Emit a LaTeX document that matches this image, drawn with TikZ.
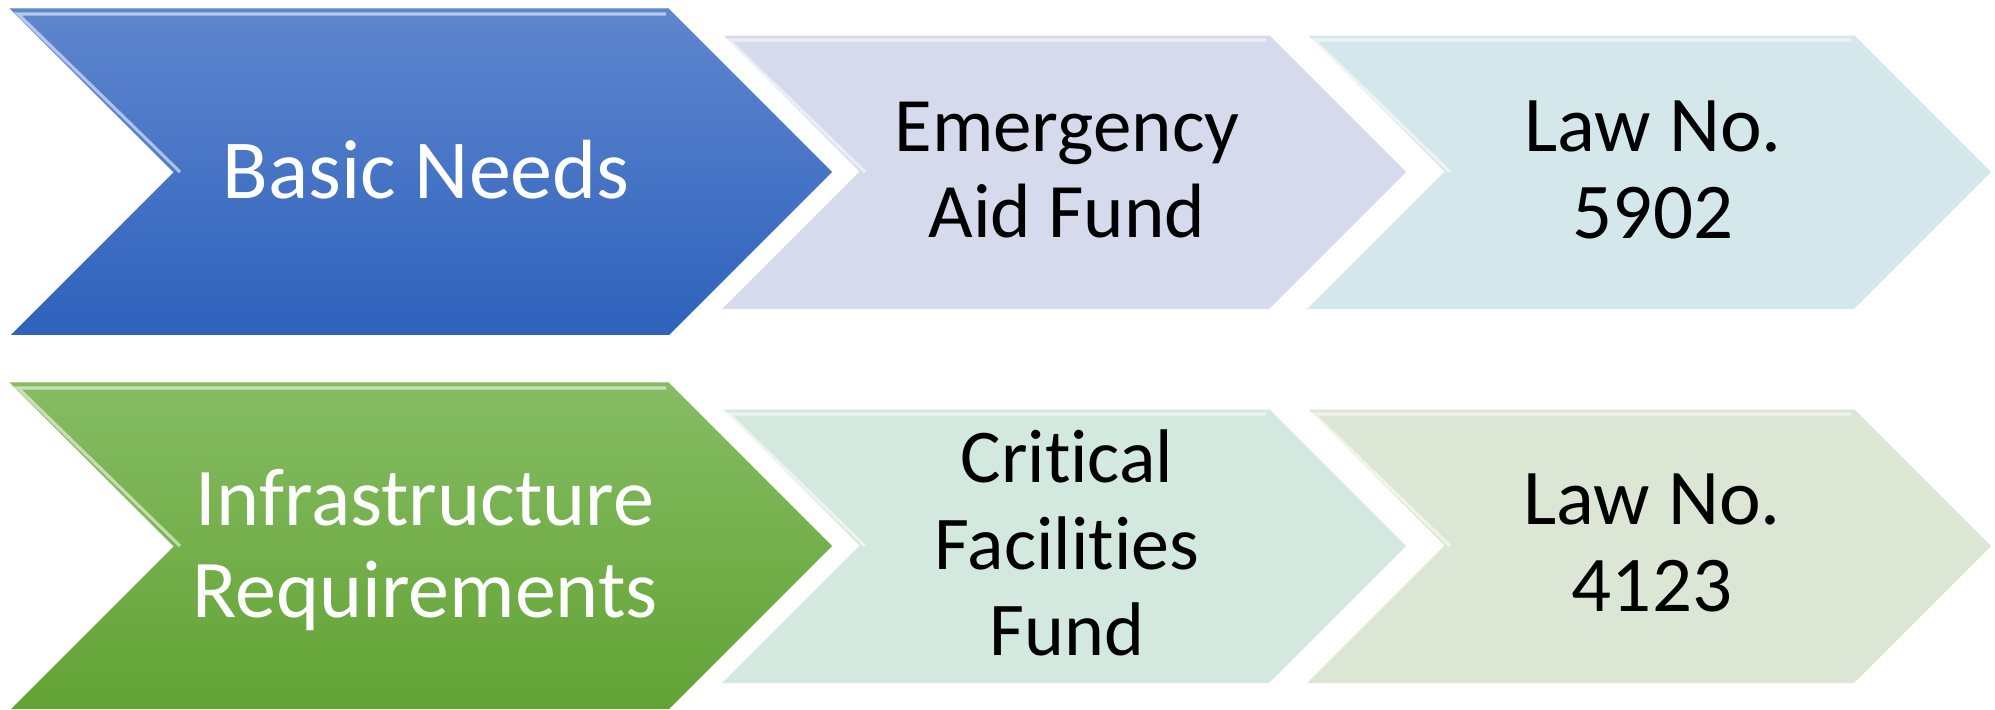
\documentclass[tikz,border=0pt]{standalone}
\usepackage{fontspec}
\setmainfont[RawFeature={-liga;-clig;-dlig}]{Carlito}
\newcommand{\nl}{\kern0pt }
\definecolor{blueT}{HTML}{5F86CE}
\definecolor{blueB}{HTML}{2E62BC}
\definecolor{greenT}{HTML}{86BC63}
\definecolor{greenB}{HTML}{62A334}
\definecolor{lav}{HTML}{D5DAEC}
\definecolor{teal}{HTML}{D4E7EA}
\definecolor{mint}{HTML}{D3E8DE}
\definecolor{sage}{HTML}{DCE6D5}
\tikzset{
  bluefill/.style={top color=blueT,bottom color=blueB},
  greenfill/.style={top color=greenT,bottom color=greenB},
  lavfill/.style={fill=lav},
  tealfill/.style={fill=teal},
  mintfill/.style={fill=mint},
  sagefill/.style={fill=sage},
  hl/.style={draw=white,line width=1.6pt,opacity=0.55,line join=miter},
  edge/.style={draw=#1,line width=0.6pt},
  darktext/.style={text=white,align=center,inner sep=0pt},
  lighttext/.style={text=black,align=center,inner sep=0pt},
}
\newcommand{\chev}[6]{% x y w h fillstyle edgecolor
  \begin{scope}[shift={(#1,#2)}]
    \path[#5] (0,0) -- (#3,0) -- ({#3+#4/2},{#4/2}) -- (#3,#4) -- (0,#4) -- ({#4/2},{#4/2}) -- cycle;
    \draw[edge=#6] ({#4/2},{#4/2}) -- (0,0) -- (#3,0);
    \draw[hl] ({#4/2+6},{#4/2}) -- (7,5) -- (#3-3,5);
  \end{scope}}
\begin{document}
\begin{tikzpicture}[x=0.5pt,y=-0.5pt]
\useasboundingbox (0,0) rectangle (1995,710);
% top row
\chev{11}{9}{658}{326}{bluefill}{blueT}
\chev{722}{35}{547}{274}{lavfill}{white}
\chev{1307}{35}{547}{274}{tealfill}{white}
% bottom row
\chev{11}{383}{658}{326}{greenfill}{greenT}
\chev{722}{409}{547}{274}{mintfill}{white}
\chev{1307}{409}{547}{274}{sagefill}{white}
% texts
\node[darktext,font=\fontsize{42}{43}\selectfont] (basic) at (426,170) {Basic Needs};
\node[lighttext,font=\fontsize{38.5}{43}\selectfont] (emerg) at (1067,170) {Emergency\\Aid Fund};
\node[lighttext,font=\fontsize{39.5}{43.5}\selectfont] (law1) at (1653,170) {Law No.\\5902};
\node[darktext,font=\fontsize{41}{46}\selectfont] (infra) at (425,550) {Infrastructure\\Requirements};
\node[lighttext,font=\fontsize{38}{43.3}\selectfont] (crit) at (1067,543) {Crit\nl ical\\Facilit\nl ies\\Fund};
\node[lighttext,font=\fontsize{39.5}{43.5}\selectfont] (law2) at (1652,543) {Law No.\\4123};
\end{tikzpicture}
\end{document}
